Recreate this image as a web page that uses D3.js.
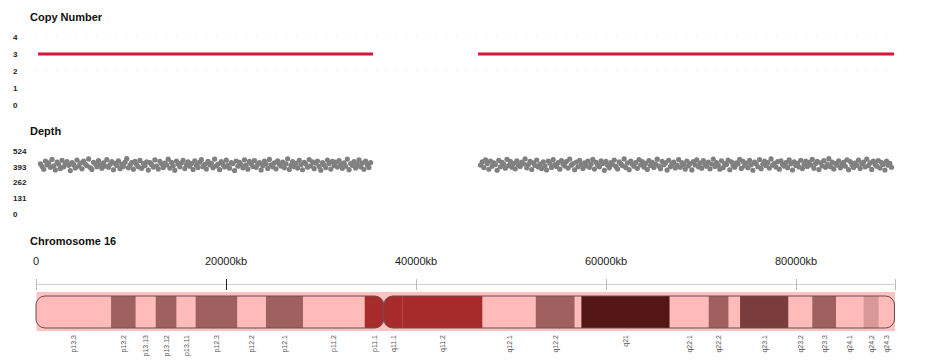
<!DOCTYPE html>
<html>
<head>
<meta charset="utf-8">
<script src="https://cdn.jsdelivr.net/npm/d3@7"></script>
<style>
  body { margin: 0; background: #fff; }
  svg { display: block; font-family: "Liberation Sans", Arial, sans-serif; }
</style>
</head>
<body>
<div id="chart"></div>
<script>
const width = 934;
const height = 363;

// chromosome 16, kb
const chrLength = 90354;
const axisTicks = [0, 20000, 40000, 60000, 80000];

const bandNames  = ['p13.3', 'p13.2', 'p13.13', 'p13.12', 'p13.11', 'p12.3', 'p12.2', 'p12.1', 'p11.2', 'p11.1',
                    'q11.1', 'q11.2', 'q12.1', 'q12.2', 'q13', 'q21', 'q22.1', 'q22.2', 'q22.3', 'q23.1',
                    'q23.2', 'q23.3', 'q24.1', 'q24.2', 'q24.3'];
const bandStarts = [0, 7900, 10500, 12600, 14800, 16800, 21200, 24200, 28100, 34600,
                    36600, 38600, 47000, 52600, 56700, 57400, 66700, 70800, 72900, 74100,
                    79200, 81700, 84200, 87100, 88700];
const bandEnds   = [7900, 10500, 12600, 14800, 16800, 21200, 24200, 28100, 34600, 36600,
                    38600, 47000, 52600, 56700, 57400, 66700, 70800, 72900, 74100, 79200,
                    81700, 84200, 87100, 88700, 90354];
const bandStains = ['gneg', 'gpos50', 'gneg', 'gpos50', 'gneg', 'gpos50', 'gneg', 'gpos50', 'gneg', 'acen',
                    'acen', 'gvar', 'gneg', 'gpos50', 'gneg', 'gpos100', 'gneg', 'gpos50', 'gneg', 'gpos75',
                    'gneg', 'gpos50', 'gneg', 'gpos25', 'gneg'];
const centromere = 36600;

// copy number segments
const cnStarts = [210, 46520];
const cnEnds = [35470, 90310];
const cnValues = [3, 3];
const cnTicks = [0, 1, 2, 3, 4];

// depth bins
const depthTicks = [0, 131, 262, 393, 524];
const depthSeg1Start = 470, depthSeg1Step = 174.6;
const depthSeg1 = [
  418,395,372,441,409,426,388,455,401,367,432,414,379,447,392,420,436,405,361,428,
  410,383,449,397,423,376,439,415,402,458,386,371,430,419,394,444,408,381,425,399,
  452,389,413,435,368,421,404,442,377,416,396,431,460,384,407,427,373,438,411,393,
  446,380,419,403,434,365,428,412,390,450,399,375,437,417,386,424,408,456,382,429,
  401,363,440,415,392,426,447,378,410,433,398,419,370,443,405,387,431,452,394,414,
  374,438,409,422,385,457,400,416,369,435,412,391,448,404,381,427,419,362,441,397,
  430,411,384,451,406,373,437,421,395,445,388,414,428,366,402,439,417,379,454,409,
  392,425,376,443,413,399,432,385,418,459,371,406,436,394,421,382,447,410,368,429,
  415,389,453,400,434,377,423,441,396,364,427,408,386,449,419,374,438,403,431,391,
  444,412,380,426,397,457,369,420,405,436,383,415,450,392,424,372,441,409,387,428
];
const depthSeg2Start = 46790, depthSeg2Step = 173.7;
const depthSeg2 = [
  407,433,386,451,419,372,440,398,425,411,364,446,393,429,415,381,455,402,437,389,
  420,376,443,408,396,431,417,459,384,412,438,370,426,404,449,391,416,378,434,400,
  366,441,423,387,453,410,395,428,373,445,414,399,436,382,457,406,419,368,432,393,
  447,412,379,425,401,439,388,416,454,374,430,408,392,443,420,363,437,405,384,428,
  411,449,396,375,433,418,402,458,386,424,369,441,413,397,427,380,452,409,435,390,
  421,371,444,404,430,387,415,456,399,377,438,410,425,365,447,394,418,432,383,406,
  453,389,427,412,374,440,401,419,367,436,408,450,392,423,381,445,414,398,431,376,
  416,457,395,428,405,372,442,386,420,411,448,368,434,403,389,426,415,455,379,437,
  400,423,385,446,409,364,431,418,393,452,377,414,439,402,427,382,458,406,421,390,
  435,373,443,411,398,428,385,450,417,366,433,404,422,391,447,378,413,440,396,429,
  408,454,381,419,437,370,426,401,445,388,415,460,394,431,375,420,407,442,384,412,
  429,397,451,369,436,410,387,423,405,448,378,417,432,392,457,403,425,371,439,414,
  398,444,383,427,412,366,440,406,421,389
];

const stainColor = {
    gneg: '#ffbaba',
    gpos25: '#d89898',
    gpos50: '#a06060',
    gpos75: '#7a3c3c',
    gpos100: '#551616',
    acen: '#a82b2b',
    gvar: '#a82b2b'
};

const x = d3.scaleLinear().domain([0, chrLength]).range([36, 894.5]);
const cnY = d3.scaleLinear().domain([0, 4]).range([105, 37]);
const depthY = d3.scaleLinear().domain([0, 524]).range([214, 151]);

const svg = d3.select('#chart').append('svg')
    .attr('width', width)
    .attr('height', height);

function title(text, yPos) {
    svg.append('text')
        .attr('x', 30)
        .attr('y', yPos)
        .style('font-size', '11px')
        .style('font-weight', 'bold')
        .style('fill', '#111')
        .text(text);
}

function yLabels(ticks, scale) {
    svg.append('g').selectAll('text')
        .data(ticks)
        .join('text')
        .attr('x', 13)
        .attr('y', d => scale(d))
        .attr('dy', '0.35em')
        .style('font-size', '8px')
        .style('font-weight', 'bold')
        .style('fill', '#222')
        .text(d => d);
}

// copy number
title('Copy Number', 21);
yLabels(cnTicks, cnY);

svg.append('g').selectAll('line')
    .data([4, 2])
    .join('line')
    .attr('x1', x(0))
    .attr('x2', x(chrLength))
    .attr('y1', d => cnY(d))
    .attr('y2', d => cnY(d))
    .style('stroke', '#e4e4e4')
    .style('stroke-dasharray', '1,9');

svg.append('g').selectAll('line')
    .data(cnValues.map((v, i) => ({ start: cnStarts[i], end: cnEnds[i], cn: v })))
    .join('line')
    .attr('x1', d => x(d.start))
    .attr('x2', d => x(d.end))
    .attr('y1', d => cnY(d.cn))
    .attr('y2', d => cnY(d.cn))
    .style('stroke', '#dc143c')
    .style('stroke-width', 3);

// depth
title('Depth', 135);
yLabels(depthTicks, depthY);

const depthPoints = depthSeg1.map((v, i) => ({ pos: depthSeg1Start + i * depthSeg1Step, depth: v }))
    .concat(depthSeg2.map((v, i) => ({ pos: depthSeg2Start + i * depthSeg2Step, depth: v })));

svg.append('g').selectAll('circle')
    .data(depthPoints)
    .join('circle')
    .attr('cx', d => x(d.pos))
    .attr('cy', d => depthY(d.depth))
    .attr('r', 2.6)
    .style('fill', '#808080');

// chromosome
title('Chromosome 16', 245);

const axis = svg.append('g');
axis.append('line')
    .attr('x1', x(0))
    .attr('x2', x(chrLength))
    .attr('y1', 284.5)
    .attr('y2', 284.5)
    .style('stroke', '#d0d0d0');

axis.selectAll('.tick')
    .data(axisTicks.concat([chrLength]))
    .join('line')
    .attr('x1', d => Math.round(x(d)) + 0.5)
    .attr('x2', d => Math.round(x(d)) + 0.5)
    .attr('y1', 279)
    .attr('y2', 290)
    .style('stroke', d => d === 20000 ? '#222' : '#bbb');

axis.selectAll('text')
    .data(axisTicks)
    .join('text')
    .attr('x', d => x(d))
    .attr('y', 265)
    .attr('text-anchor', 'middle')
    .style('font-size', '11px')
    .style('fill', '#222')
    .text(d => d === 0 ? '0' : d + 'kb');

const bands = bandNames.map((name, i) => ({
    name: name, start: bandStarts[i], end: bandEnds[i], stain: bandStains[i]
}));

const chrTop = 296, chrH = 32, radius = 9;

svg.append('rect')
    .attr('x', x(0) + 0.5)
    .attr('y', 292)
    .attr('width', x(chrLength) - x(0))
    .attr('height', 39)
    .style('fill', '#ffc2c2');

const arms = [
    { id: 'parm', start: 0, end: centromere },
    { id: 'qarm', start: centromere, end: chrLength }
];

const defs = svg.append('defs');
arms.forEach(a => {
    defs.append('clipPath')
        .attr('id', 'clip-' + a.id)
        .append('rect')
        .attr('x', x(a.start))
        .attr('y', chrTop)
        .attr('width', x(a.end) - x(a.start))
        .attr('height', chrH)
        .attr('rx', radius)
        .attr('ry', radius);
});

arms.forEach(a => {
    svg.append('g')
        .attr('clip-path', `url(#clip-${a.id})`)
        .selectAll('rect')
        .data(bands.filter(b => b.start >= a.start && b.end <= a.end))
        .join('rect')
        .attr('x', d => x(d.start))
        .attr('y', chrTop)
        .attr('width', d => x(d.end) - x(d.start))
        .attr('height', chrH)
        .style('fill', d => stainColor[d.stain]);

    svg.append('rect')
        .attr('x', x(a.start))
        .attr('y', chrTop)
        .attr('width', x(a.end) - x(a.start))
        .attr('height', chrH)
        .attr('rx', radius)
        .attr('ry', radius)
        .style('fill', 'none')
        .style('stroke', '#6a4a4a')
        .style('stroke-width', 1);
});

// band labels, skipped where the band is too narrow
svg.append('g').selectAll('text')
    .data(bands.filter(b => x(b.end) - x(b.start) > 12))
    .join('text')
    .attr('transform', d => `translate(${x((d.start + d.end) / 2)},335) rotate(-90)`)
    .attr('text-anchor', 'end')
    .attr('dy', '0.35em')
    .style('font-size', '7px')
    .style('fill', '#555')
    .text(d => d.name);
</script>
</body>
</html>
